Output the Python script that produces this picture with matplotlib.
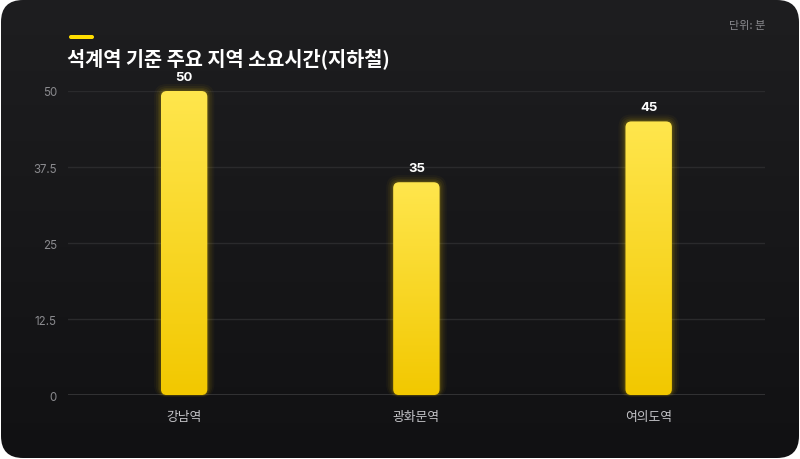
import numpy as np
import matplotlib
matplotlib.use("Agg")
import matplotlib.pyplot as plt
from matplotlib.patches import FancyBboxPatch
from matplotlib.colors import LinearSegmentedColormap

plt.rcParams['font.family'] = ['Noto Sans CJK KR', 'DejaVu Sans']

# data
stations = ['강남역', '광화문역', '여의도역']
minutes = [50, 35, 45]
yticks = [0, 12.5, 25, 37.5, 50]
ytick_labels = ['0', '12.5', '25', '37.5', '50']
title = '석계역 기준 주요 지역 소요시간(지하철)'
unit = '단위: 분'

fig = plt.figure(figsize=(8, 4.6), dpi=100)
fig.patch.set_facecolor('white')

# card background with vertical gradient
bg = fig.add_axes([0, 0, 1, 1], zorder=0)
bg.set_xlim(0, 800)
bg.set_ylim(0, 460)
bg.axis('off')
card = FancyBboxPatch((1, 1), 798, 458, boxstyle='round,pad=0,rounding_size=22',
                      facecolor='none', edgecolor='none', transform=bg.transData)
bg.add_patch(card)
bg_cmap = LinearSegmentedColormap.from_list('bg', ['#111113', '#1e1e20'])
grad = np.linspace(0, 1, 256).reshape(-1, 1)
im = bg.imshow(grad, cmap=bg_cmap, extent=[0, 800, 0, 460], origin='lower', aspect='auto')
im.set_clip_path(card)

# accent bar and titles
accent = FancyBboxPatch((69, 420), 25, 4, boxstyle='round,pad=0,rounding_size=2',
                        facecolor='#ffde00', edgecolor='none')
bg.add_patch(accent)
bg.text(67, 401, title, fontsize=14.2, fontweight='bold', color='white', va='center', ha='left')
bg.text(765, 434, unit, fontsize=8, color='#8a8a8e', va='center', ha='right')

# main axes
ax = fig.add_axes([0.085, 0.139, 0.871, 0.661], zorder=1)
ax.set_facecolor('none')
ax.set_xlim(-0.5, 2.5)
ax.set_ylim(0, 50)
for s in ax.spines.values():
    s.set_visible(False)
ax.set_yticks(yticks)
ax.set_yticklabels(ytick_labels, family=['Inter', 'Noto Sans CJK KR'])
ax.tick_params(axis='y', length=0, pad=8, labelsize=8.3, labelcolor='#8a8a8e')
ax.tick_params(axis='x', length=0, pad=11, labelsize=9.2, labelcolor='#c4c4c8')
ax.grid(axis='y', color='#2a2a2c', linewidth=1)
ax.axhline(0, color='#3a3a3c', linewidth=1.2, zorder=1)

x = np.arange(len(stations))
bars = ax.bar(x, minutes, width=0.2, color='none')
ax.set_xticks(x)
ax.set_xticklabels(stations, fontweight='medium')

fig.canvas.draw()
# data units per pixel in x and y
p0 = ax.transData.transform((0, 0))
p1 = ax.transData.transform((1, 1))
ux = 1 / (p1[0] - p0[0])
uy = 1 / (p1[1] - p0[1])
aspect = uy / ux

bar_cmap = LinearSegmentedColormap.from_list('bar', ['#f2c800', '#ffe64d'])
for b, v in zip(bars, minutes):
    bx, bw = b.get_x(), b.get_width()
    # glow
    for k, a in zip([7, 5, 3, 1.5], [0.035, 0.05, 0.07, 0.1]):
        glow = FancyBboxPatch((bx - k * ux, -k * uy * 0.3), bw + 2 * k * ux, v + k * uy * 1.3,
                              boxstyle='round,pad=0,rounding_size=%f' % ((6 + k) * ux),
                              mutation_aspect=aspect, facecolor='#ffd400', edgecolor='none',
                              alpha=a, zorder=2, clip_on=False)
        ax.add_patch(glow)
    shape = FancyBboxPatch((bx, 0), bw, v, boxstyle='round,pad=0,rounding_size=%f' % (6 * ux),
                           mutation_aspect=aspect, facecolor='none', edgecolor='none', zorder=3)
    ax.add_patch(shape)
    g = ax.imshow(grad, cmap=bar_cmap, extent=[bx, bx + bw, 0, v], origin='lower',
                  aspect='auto', zorder=3)
    g.set_clip_path(shape)
    ax.text(b.get_x() + bw / 2, v + 14 * uy, str(v), ha='center', va='center',
            fontsize=9.5, fontweight='bold', color='white', clip_on=False, zorder=4,
            family=['Inter', 'Noto Sans CJK KR'])

ax.set_xlim(-0.5, 2.5)
ax.set_ylim(0, 50)

fig.savefig('out.png', dpi=100, facecolor=fig.get_facecolor())
